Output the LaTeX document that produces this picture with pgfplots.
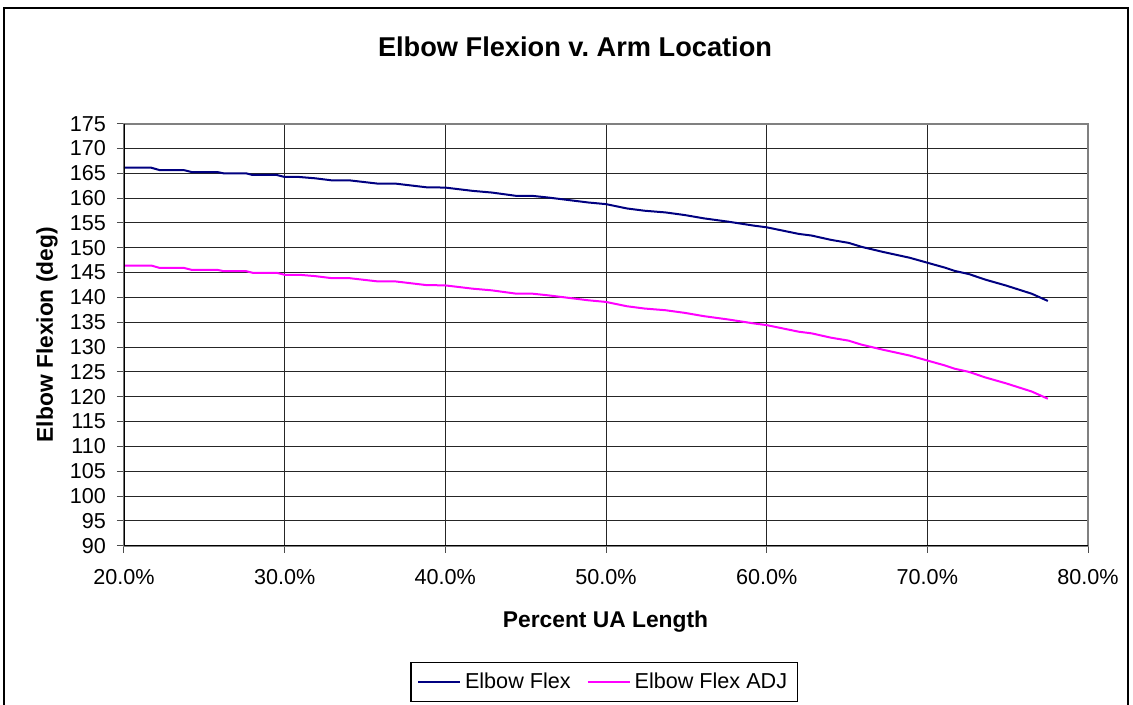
\documentclass[border=0pt]{standalone}
\usepackage{fontspec}
\setmainfont{Liberation Sans}
\usepackage{pgfplots}
\usepackage{pgfplotstable}
\pgfplotsset{compat=1.18}
\frenchspacing

\definecolor{flexblue}{RGB}{0,0,128}
\definecolor{flexpink}{RGB}{255,0,255}

% x = percent of upper arm length, flex / adj = elbow flexion (deg)
\pgfplotstableread{
x     flex    adj
20.0  166.13  146.43
21.7  166.13  146.43
22.2  165.67  145.97
23.7  165.67  145.97
24.2  165.27  145.57
25.8  165.27  145.57
26.2  165.00  145.30
27.6  165.00  145.30
28.0  164.67  144.97
29.5  164.67  144.97
30.0  164.27  144.57
30.9  164.27  144.57
31.9  164.00  144.30
32.9  163.60  143.90
34.0  163.60  143.90
35.8  162.93  143.23
36.9  162.93  143.23
38.8  162.20  142.50
40.0  162.13  142.43
41.7  161.47  141.77
42.9  161.13  141.43
44.4  160.47  140.77
45.4  160.47  140.77
46.4  160.13  140.43
48.9  159.13  139.43
50.0  158.80  139.10
51.3  157.93  138.23
52.4  157.47  137.77
53.7  157.13  137.43
54.9  156.60  136.90
56.1  155.93  136.23
57.6  155.27  135.57
59.2  154.47  134.77
60.0  154.13  134.43
62.0  152.80  133.10
62.8  152.47  132.77
64.0  151.60  131.90
65.1  151.00  131.30
65.9  150.20  130.50
67.2  149.20  129.50
68.9  148.00  128.30
70.0  147.00  127.30
71.1  146.00  126.30
71.7  145.35  125.65
72.6  144.70  125.00
73.6  143.60  123.90
74.9  142.40  122.70
76.5  140.75  121.05
77.5  139.30  119.60
}\elbowdata

\begin{document}
\begin{tikzpicture}
\useasboundingbox (-62pt,-79.65pt) rectangle (504.5pt,272.85pt);
% chart frame (bottom edge lies below the picture)
\draw[black, line width=1pt] (-60pt,-82pt) -- (-60pt,268.85pt) -- (502pt,268.85pt) -- (502pt,-82pt);

\begin{axis}[
  scale only axis,
  width=482pt, height=211pt,
  at={(0,0)}, anchor=south west,
  xmin=20, xmax=80, ymin=90, ymax=175,
  xtick={20,30,40,50,60,70,80},
  xticklabels={20.0\%,30.0\%,40.0\%,50.0\%,60.0\%,70.0\%,80.0\%},
  ytick distance=5,
  /pgf/number format/assume math mode=true,
  tick align=outside,
  major tick length=3.5pt,
  tick style={black!70, line width=0.5pt},
  xtick pos=bottom, ytick pos=left,
  grid=major,
  major grid style={black!85, line width=0.5pt},
  axis line style={draw=black!50, line width=1pt},
  ticklabel style={font=\fontsize{10.8}{13}\selectfont},
  xticklabel shift=5pt,
  yticklabel shift=2pt,
  xlabel={Percent UA Length},
  ylabel={Elbow Flexion (deg)},
  label style={font=\fontsize{11.4}{13}\selectfont\bfseries},
  xlabel style={at={(axis description cs:0.4995,-0.1927)}, anchor=base},
  ylabel style={at={(axis description cs:-0.0799,0.5)}, anchor=center},
  legend columns=2,
  legend style={at={(axis description cs:0.498,-0.2756)}, anchor=north,
    draw=black, line width=0.6pt, font=\fontsize{10.8}{13}\selectfont,
    inner xsep=3pt, inner ysep=3pt,
    /tikz/every even column/.append style={column sep=6pt}},
  legend image code/.code={\draw[#1] (0pt,0pt) -- (21pt,0pt);},
]
\addplot[flexblue, line width=1pt] table[x=x, y=flex] {\elbowdata};
\addlegendentry{Elbow Flex}
\addplot[flexpink, line width=1pt] table[x=x, y=adj] {\elbowdata};
\addlegendentry{Elbow Flex ADJ}
\draw[black, line width=1pt] (rel axis cs:0,1) -- (rel axis cs:0,0) -- (rel axis cs:1,0);
\end{axis}

\node[anchor=base, font=\fontsize{13.6}{16}\selectfont\bfseries] at (225.5pt,244.5pt) {Elbow Flexion v. Arm Location};
\end{tikzpicture}
\end{document}
